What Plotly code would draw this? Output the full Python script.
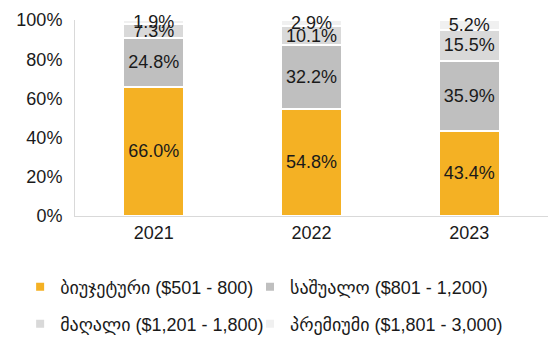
import plotly.graph_objects as go

# Share of sales by price segment, per year
years = ["2021", "2022", "2023"]
segments = [
    "ბიუჯეტური ($501 - 800)",
    "საშუალო ($801 - 1,200)",
    "მაღალი ($1,201 - 1,800)",
    "პრემიუმი ($1,801 - 3,000)",
]
budget = [66.0, 54.8, 43.4]
middle = [24.8, 32.2, 35.9]
high = [7.3, 10.1, 15.5]
premium = [1.9, 2.9, 5.2]

series = [budget, middle, high, premium]
colors = ["#F4B124", "#BFBFBF", "#D9D9D9", "#F0F0F0"]

FONT = "Liberation Sans, Arial, DejaVu Sans, sans-serif"
TXT = "#1a1a1a"
FS = 18

fig = go.Figure()
for name, vals, col in zip(segments, series, colors):
    fig.add_trace(go.Bar(
        x=years,
        y=[v / 100 for v in vals],
        name=name,
        marker=dict(color=col, line=dict(color="white", width=2)),
        text=[f"{v:.1f}%" for v in vals],
        textposition="inside",
        insidetextanchor="middle",
        constraintext="none",
        textangle=0,
        textfont=dict(family=FONT, size=FS, color=TXT),
        cliponaxis=False,
        showlegend=False,
        width=0.386,
    ))

# one legend box per entry, laid out as a 2x2 grid below the plot
legend_ids = ["legend", "legend2", "legend3", "legend4"]
legend_x = [-0.116, 0.370, -0.116, 0.370]
legend_y = [-0.362, -0.362, -0.551, -0.551]

for name, col, lid in zip(segments, colors, legend_ids):
    fig.add_trace(go.Scatter(
        x=[None], y=[None], mode="markers", name=name,
        marker=dict(symbol="square", size=8, color=col),
        legend=lid,
        showlegend=True,
    ))

legend_layout = {}
for lid, lx, ly in zip(legend_ids, legend_x, legend_y):
    legend_layout[lid] = dict(
        orientation="v",
        xanchor="left",
        yanchor="middle",
        x=lx,
        y=ly,
        font=dict(family=FONT, size=FS, color=TXT),
        bgcolor="rgba(0,0,0,0)",
        itemclick=False,
    )

fig.update_layout(
    width=548,
    height=337,
    margin=dict(l=75, r=0, t=20, b=121, autoexpand=False),
    paper_bgcolor="white",
    plot_bgcolor="white",
    barmode="stack",
    font=dict(family=FONT, size=FS, color=TXT),
    xaxis=dict(
        showline=True, linecolor="#D9D9D9", linewidth=1,
        ticks="", showgrid=False,
        tickfont=dict(family=FONT, size=FS, color=TXT),
    ),
    yaxis=dict(
        range=[0, 1],
        tickvals=[0, 0.2, 0.4, 0.6, 0.8, 1.0],
        tickformat=".0%",
        showline=True, linecolor="#D9D9D9", linewidth=1,
        showgrid=False, zeroline=False, ticks="",
        ticklabelstandoff=8,
        tickfont=dict(family=FONT, size=FS, color=TXT),
    ),
    **legend_layout,
)

fig.write_html("out.html")
